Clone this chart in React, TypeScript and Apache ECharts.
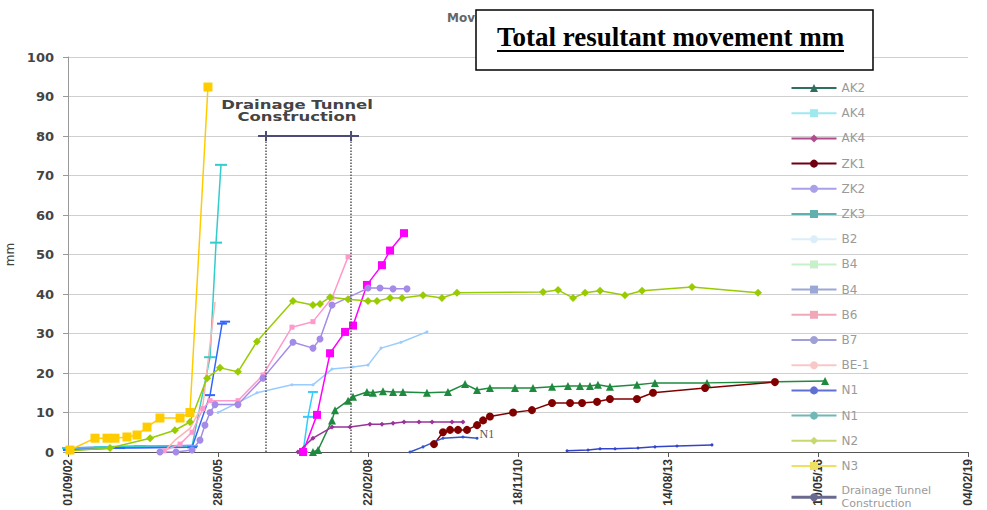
import { useEffect, useRef } from 'react';
import * as echarts from 'echarts';

// x axis: days since 01/09/02, one tick every 1000 days
const X_TICK_LABELS = ['01/09/02', '28/05/05', '22/02/08', '18/11/10', '14/08/13', '10/05/16', '04/02/19'];
const X_STEP = 1000;
const Y_MAX = 100;
const Y_STEP = 10;

// Drainage tunnel construction period (days) and bar level (mm)
const DRAINAGE_DAYS = [1267, 1320, 1887, 1940];
const DRAINAGE_MM = [80, 80, 80, 80];
const DRAINAGE_START = 1320;
const DRAINAGE_END = 1887;

const AK2_DAYS = [1633, 1667, 1760, 1780, 1867, 1900, 1993, 2033, 2100, 2167, 2233, 2393, 2533, 2647, 2727, 2813, 2980, 3100, 3227, 3333, 3413, 3480, 3533, 3613, 3793, 3913, 4260, 5047];
const AK2_MM = [0, 0.5, 8, 10.6, 13, 14, 15.2, 15, 15.4, 15.2, 15.2, 15, 15.2, 17.2, 15.7, 16.2, 16.2, 16.2, 16.5, 16.7, 16.7, 16.7, 17, 16.5, 17, 17.5, 17.5, 18];

const AK4A_DAYS = [1567, 1600, 1633];
const AK4A_MM = [0, 8.9, 15.2];

const AK4B_DAYS = [1533, 1633, 1760, 1880, 2013, 2093, 2167, 2240, 2340, 2427, 2560, 2633];
const AK4B_MM = [0, 3.5, 6.3, 6.3, 7, 7, 7.3, 7.6, 7.6, 7.6, 7.6, 7.6];

const ZK1_DAYS = [2440, 2500, 2547, 2600, 2660, 2727, 2767, 2813, 2967, 3093, 3227, 3347, 3427, 3527, 3613, 3793, 3900, 4247, 4713];
const ZK1_MM = [2, 5, 5.6, 5.6, 5.6, 6.8, 8, 9, 10, 10.6, 12.4, 12.4, 12.4, 12.7, 13.4, 13.4, 15, 16.2, 17.7];

const ZK2_DAYS = [0, 300, 600, 827];
const ZK2_MM = [0.8, 1.2, 1.3, 1.5];

const ZK3_DAYS = [0, 213, 480, 827, 947, 987, 1020];
const ZK3_MM = [1, 1.2, 1.5, 1.5, 24, 53, 72.7];

const B2_DAYS = [1000, 1133, 1260, 1493, 1633, 1760, 1900, 2000, 2087, 2220, 2393];
const B2_MM = [10, 12.5, 15, 17, 17, 21, 21.5, 22, 26.3, 27.8, 30.4];

const B4A_DAYS = [1567, 1660, 1747, 1847, 1900, 1993, 2093, 2147, 2240];
const B4A_MM = [0, 9.4, 25, 30.4, 32, 42.3, 47.3, 51, 55.4];

const B4B_DAYS = [0, 347, 827, 947, 1027, 1047];
const B4B_MM = [0.5, 1, 1.2, 14.4, 32.5, 33];

const B6_DAYS = [640, 747, 827, 900, 947, 1133, 1300, 1493, 1633, 1760, 1867];
const B6_MM = [0.3, 2, 5, 11, 13, 13, 19.5, 31.6, 33, 39, 49.4];

const B7_DAYS = [613, 720, 827, 880, 913, 947, 980, 1133, 1300, 1500, 1633, 1680, 1760, 2000, 2080, 2167, 2260];
const B7_MM = [0, 0, 0.5, 3, 6.8, 10, 12, 12, 18.7, 27.8, 26.3, 28.6, 37.2, 41.5, 41.5, 41.3, 41.3];

const BE1_DAYS = [650, 713, 813, 900, 980];
const BE1_MM = [0.5, 3, 6, 12, 38];

const N1A_DAYS = [2280, 2367, 2500, 2633, 2727];
const N1A_MM = [0, 1.3, 3.5, 3.8, 3.5];

const N1B_DAYS = [3327, 3467, 3547, 3647, 3800, 3913, 4060, 4293];
const N1B_MM = [0.3, 0.5, 0.8, 0.8, 1, 1.3, 1.5, 1.8];

const N2_DAYS = [13, 280, 547, 713, 813, 927, 1013, 1133, 1260, 1500, 1633, 1680, 1747, 1867, 2000, 2060, 2147, 2227, 2367, 2493, 2593, 3167, 3267, 3367, 3447, 3547, 3713, 3827, 4160, 4600];
const N2_MM = [0.3, 1, 3.5, 5.5, 7.6, 18.7, 21.3, 20.3, 28, 38.2, 37.2, 37.5, 39.2, 38.7, 38.2, 38.2, 39, 39, 39.7, 39, 40.3, 40.5, 41, 39, 40.3, 40.8, 39.7, 40.8, 41.8, 40.3];

const N3_DAYS = [13, 180, 260, 313, 393, 460, 527, 613, 747, 813, 933];
const N3_MM = [0.5, 3.5, 3.5, 3.5, 3.8, 4.3, 6.3, 8.6, 8.6, 10, 92.4];

const zip = (d: number[], v: number[]) => d.map((x, i) => [x, v[i]]);

type Def = {
  name: string; days: number[]; mm: number[]; color: string; legendColor: string;
  symbol: string; size: number | number[]; width?: number;
};

const DEFS: Def[] = [
  { name: 'AK2', days: AK2_DAYS, mm: AK2_MM, color: '#1e8a3e', legendColor: '#2f6f5f', symbol: 'triangle', size: 8 },
  { name: 'AK4', days: AK4A_DAYS, mm: AK4A_MM, color: '#33ccff', legendColor: '#9ee8f0', symbol: 'rect', size: [10, 2] },
  { name: 'AK4 ', days: AK4B_DAYS, mm: AK4B_MM, color: '#993399', legendColor: '#b04c8c', symbol: 'diamond', size: 5 },
  { name: 'ZK1', days: ZK1_DAYS, mm: ZK1_MM, color: '#800000', legendColor: '#700010', symbol: 'circle', size: 8 },
  { name: 'ZK2', days: ZK2_DAYS, mm: ZK2_MM, color: '#9999ff', legendColor: '#a8a0e8', symbol: 'none', size: 0, width: 3 },
  { name: 'ZK3', days: ZK3_DAYS, mm: ZK3_MM, color: '#33cccc', legendColor: '#60b0b0', symbol: 'rect', size: [12, 2] },
  { name: 'B2', days: B2_DAYS, mm: B2_MM, color: '#99ccff', legendColor: '#dbeefa', symbol: 'circle', size: 3 },
  { name: 'B4', days: B4A_DAYS, mm: B4A_MM, color: '#ff00ff', legendColor: '#c8f0c8', symbol: 'rect', size: 8 },
  { name: 'B4 ', days: B4B_DAYS, mm: B4B_MM, color: '#3366ff', legendColor: '#9aa8d8', symbol: 'rect', size: [10, 2] },
  { name: 'B6', days: B6_DAYS, mm: B6_MM, color: '#ff99cc', legendColor: '#f0a8b8', symbol: 'rect', size: 5 },
  { name: 'B7', days: B7_DAYS, mm: B7_MM, color: '#a48be8', legendColor: '#a0a0d8', symbol: 'circle', size: 7 },
  { name: 'BE-1', days: BE1_DAYS, mm: BE1_MM, color: '#ffb3b3', legendColor: '#f8c8c8', symbol: 'none', size: 0 },
  { name: 'N1', days: N1A_DAYS, mm: N1A_MM, color: '#3355cc', legendColor: '#6070d0', symbol: 'circle', size: 3 },
  { name: 'N1 ', days: N1B_DAYS, mm: N1B_MM, color: '#3344cc', legendColor: '#70b8b8', symbol: 'circle', size: 3 },
  { name: 'N2', days: N2_DAYS, mm: N2_MM, color: '#99cc00', legendColor: '#c8d870', symbol: 'diamond', size: 8 },
  { name: 'N3', days: N3_DAYS, mm: N3_MM, color: '#ffcc00', legendColor: '#f0e060', symbol: 'rect', size: 9 },
];

const DRAINAGE_NAME = 'Drainage Tunnel Construction';

export default function App() {
  const ref = useRef<HTMLDivElement>(null);
  useEffect(() => {
    if (!ref.current) return;
    const chart = echarts.init(ref.current, undefined, { renderer: 'svg' });

    const series: any[] = DEFS.map((d) => {
      const data: any[] = zip(d.days, d.mm);
      if (d.name === 'N1') {
        const last = data.length - 1;
        data[last] = {
          value: data[last],
          label: { show: true, formatter: 'N1', position: 'right', distance: 1, offset: [0, -4], fontFamily: 'Liberation Serif', fontSize: 12, color: '#555' },
        };
      }
      return {
        name: d.name,
        type: 'line',
        data,
        symbol: d.symbol,
        symbolSize: d.size,
        showSymbol: d.symbol !== 'none',
        lineStyle: { color: d.color, width: d.width ?? 1.5 },
        itemStyle: { color: d.color },
        emphasis: { disabled: true },
        z: 3,
      };
    });

    series.push({
      name: DRAINAGE_NAME,
      type: 'line',
      symbol: 'none',
      data: zip(DRAINAGE_DAYS, DRAINAGE_MM).map((p) => ({
        value: p,
        symbol: p[0] === DRAINAGE_START || p[0] === DRAINAGE_END ? 'rect' : 'none',
        symbolSize: [2, 10],
      })),
      lineStyle: { color: '#4b4b7b', width: 2 },
      itemStyle: { color: '#4b4b7b' },
      emphasis: { disabled: true },
      markLine: {
        silent: true,
        symbol: 'none',
        label: { show: false },
        lineStyle: { type: 'dotted', color: '#555', width: 1.5 },
        data: [
          [{ coord: [DRAINAGE_START, 0] }, { coord: [DRAINAGE_START, DRAINAGE_MM[1]] }],
          [{ coord: [DRAINAGE_END, 0] }, { coord: [DRAINAGE_END, DRAINAGE_MM[2]] }],
        ],
      },
      z: 2,
    });

    const legendData = [
      ...DEFS.map((d) => ({ name: d.name, itemStyle: { color: d.legendColor }, lineStyle: { color: d.legendColor } })),
      { name: DRAINAGE_NAME, itemStyle: { color: '#6a6a90' }, lineStyle: { color: '#6a6a90', width: 3 }, textStyle: { fontSize: 11, lineHeight: 13 } },
    ];

    chart.setOption({
      animation: false,
      backgroundColor: '#ffffff',
      grid: { left: 68, right: 19, top: 57, bottom: 58, containLabel: false, outerBoundsMode: 'none' },
      xAxis: {
        type: 'value',
        min: 0,
        max: X_STEP * (X_TICK_LABELS.length - 1),
        interval: X_STEP,
        splitLine: { show: false },
        axisLine: { lineStyle: { color: '#555', width: 1 } },
        axisTick: { length: 5, lineStyle: { color: '#555' } },
        axisLabel: {
          rotate: 90,
          margin: 7,
          fontFamily: 'Liberation Sans',
          fontWeight: 'bold',
          fontSize: 12,
          color: '#333',
          formatter: (v: number) => X_TICK_LABELS[Math.round(v / X_STEP)] ?? '',
        },
      },
      yAxis: {
        type: 'value',
        min: 0,
        max: Y_MAX,
        interval: Y_STEP,
        name: 'mm',
        nameLocation: 'middle',
        nameRotate: 90,
        nameGap: 44,
        nameTextStyle: { fontFamily: 'DejaVu Sans', fontSize: 12, color: '#444' },
        axisLine: { show: true, lineStyle: { color: '#999' } },
        axisTick: { show: true, length: 5, lineStyle: { color: '#999' } },
        splitLine: { lineStyle: { color: '#cfcfcf', width: 1 } },
        axisLabel: { margin: 14, fontFamily: 'DejaVu Sans', fontWeight: 'bold', fontSize: 13, color: '#444' },
      },
      legend: {
        orient: 'vertical',
        left: 790,
        top: 81,
        height: 800,
        padding: 0,
        itemWidth: 45,
        itemHeight: 10,
        itemGap: 11.2,
        selectedMode: false,
        textStyle: { fontFamily: 'DejaVu Sans', fontSize: 12, color: '#9a9a9a', lineHeight: 14 },
        formatter: (n: string) => (n === DRAINAGE_NAME ? 'Drainage Tunnel\nConstruction' : n.trim()),
        data: legendData,
      },
      graphic: [
        {
          type: 'text', left: 447, top: 12, z: 10,
          style: { text: 'Movement', fontFamily: 'DejaVu Sans', fontWeight: 'bold', fontSize: 12, fill: '#666' },
        },
        {
          type: 'rect', z: 20,
          shape: { x: 476, y: 10, width: 397, height: 60 },
          style: { fill: '#ffffff', stroke: '#000', lineWidth: 1.5 },
        },
        {
          type: 'text', z: 21, x: 497, y: 37,
          style: { text: 'Total resultant movement mm', fontFamily: 'Liberation Serif', fontWeight: 'bold', fontSize: 27, fill: '#000', textAlign: 'left', textVerticalAlign: 'middle', verticalAlign: 'middle' },
        },
        {
          type: 'line', z: 21,
          shape: { x1: 497, y1: 51, x2: 844, y2: 51 },
          style: { stroke: '#000', lineWidth: 2 },
        },
        {
          type: 'text', z: 10, x: 297, y: 111, scaleX: 1.27,
          style: { text: 'Drainage Tunnel\nConstruction', fontFamily: 'DejaVu Sans', fontWeight: 'bold', fontSize: 13, lineHeight: 12, fill: '#444', textAlign: 'center', textVerticalAlign: 'middle', verticalAlign: 'middle' },
        },
      ],
      series,
    });
    return () => chart.dispose();
  }, []);
  return <div ref={ref} style={{ position: 'fixed', left: 0, top: 0, width: 987, height: 510 }} />;
}
